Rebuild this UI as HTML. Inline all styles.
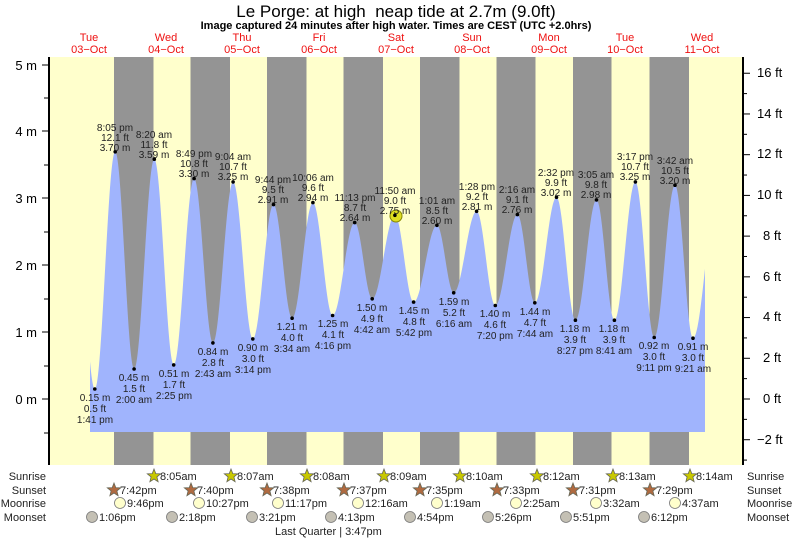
<!DOCTYPE html>
<html><head><meta charset="utf-8"><style>
body{margin:0;background:#fff}
svg{display:block;font-family:"Liberation Sans",sans-serif}
</style></head><body>
<svg id="s" width="793" height="539" viewBox="0 0 793 539">
<rect x="49" y="57" width="694" height="408" fill="#ffffcc"/>
<g fill="#949494">
<rect x="114" y="57" width="39.5" height="408"/>
<rect x="190.5" y="57" width="39.5" height="408"/>
<rect x="267" y="57" width="39.5" height="408"/>
<rect x="343.5" y="57" width="39.5" height="408"/>
<rect x="420" y="57" width="39.5" height="408"/>
<rect x="496.5" y="57" width="39" height="408"/>
<rect x="573" y="57" width="38.5" height="408"/>
<rect x="649.5" y="57" width="39.5" height="408"/>
</g>
<path id="tide" fill="#a0b4fd" d=""/>
<line x1="49" y1="57" x2="49" y2="465" stroke="#000" stroke-width="2"/>
<line x1="743" y1="57" x2="743" y2="465" stroke="#000" stroke-width="2"/>
<g stroke="#000" stroke-width="1">
<line x1="42" y1="65" x2="49" y2="65"/><line x1="44" y1="98" x2="49" y2="98"/>
<line x1="42" y1="131" x2="49" y2="131"/><line x1="44" y1="165" x2="49" y2="165"/>
<line x1="42" y1="198" x2="49" y2="198"/><line x1="44" y1="232" x2="49" y2="232"/>
<line x1="42" y1="265" x2="49" y2="265"/><line x1="44" y1="299" x2="49" y2="299"/>
<line x1="42" y1="332" x2="49" y2="332"/><line x1="44" y1="366" x2="49" y2="366"/>
<line x1="42" y1="399" x2="49" y2="399"/><line x1="44" y1="433" x2="49" y2="433"/>
</g>
<g stroke="#000" stroke-width="1" id="rt"></g>
<g font-size="13" fill="#000" text-anchor="end">
<text x="37" y="70">5 m</text><text x="37" y="136">4 m</text><text x="37" y="203">3 m</text>
<text x="37" y="270">2 m</text><text x="37" y="337">1 m</text><text x="37" y="404">0 m</text>
</g>
<g font-size="13" fill="#000">
<text x="757" y="77">16 ft</text><text x="757" y="118">14 ft</text><text x="757" y="158">12 ft</text>
<text x="757" y="199">10 ft</text><text x="763" y="240">8 ft</text><text x="763" y="281">6 ft</text>
<text x="763" y="321">4 ft</text><text x="763" y="362">2 ft</text><text x="763" y="403">0 ft</text>
<text x="757" y="444">−2 ft</text>
</g>
<text x="396" y="17" font-size="17" text-anchor="middle">Le Porge: at high &#160;neap tide at 2.7m (9.0ft)</text>
<text x="396" y="29" font-size="11" font-weight="bold" text-anchor="middle">Image captured 24 minutes after high water. Times are CEST (UTC +2.0hrs)</text>
<g font-size="11" fill="#ee1111" text-anchor="middle">
<text x="89" y="41">Tue</text><text x="89" y="53">03−Oct</text>
<text x="166" y="41">Wed</text><text x="166" y="53">04−Oct</text>
<text x="242" y="41">Thu</text><text x="242" y="53">05−Oct</text>
<text x="319" y="41">Fri</text><text x="319" y="53">06−Oct</text>
<text x="396" y="41">Sat</text><text x="396" y="53">07−Oct</text>
<text x="472" y="41">Sun</text><text x="472" y="53">08−Oct</text>
<text x="549" y="41">Mon</text><text x="549" y="53">09−Oct</text>
<text x="625" y="41">Tue</text><text x="625" y="53">10−Oct</text>
<text x="702" y="41">Wed</text><text x="702" y="53">11−Oct</text>
</g>
<circle cx="396" cy="216" r="6" fill="#dddd22" stroke="#888800"/>
<g fill="#000" id="dots"></g>
<g font-size="10" fill="#222" text-anchor="middle">
<text x="115" y="131">8:05 pm</text><text x="115" y="141">12.1 ft</text><text x="115" y="151">3.70 m</text>
<text x="154" y="138">8:20 am</text><text x="154" y="148">11.8 ft</text><text x="154" y="158">3.59 m</text>
<text x="194" y="157">8:49 pm</text><text x="194" y="167">10.8 ft</text><text x="194" y="177">3.30 m</text>
<text x="233" y="160">9:04 am</text><text x="233" y="170">10.7 ft</text><text x="233" y="180">3.25 m</text>
<text x="273" y="183">9:44 pm</text><text x="273" y="193">9.5 ft</text><text x="273" y="203">2.91 m</text>
<text x="313" y="181">10:06 am</text><text x="313" y="191">9.6 ft</text><text x="313" y="201">2.94 m</text>
<text x="355" y="201">11:13 pm</text><text x="355" y="211">8.7 ft</text><text x="355" y="221">2.64 m</text>
<text x="395" y="194">11:50 am</text><text x="395" y="204">9.0 ft</text><text x="395" y="214">2.75 m</text>
<text x="437" y="204">1:01 am</text><text x="437" y="214">8.5 ft</text><text x="437" y="224">2.60 m</text>
<text x="477" y="190">1:28 pm</text><text x="477" y="200">9.2 ft</text><text x="477" y="210">2.81 m</text>
<text x="517" y="193">2:16 am</text><text x="517" y="203">9.1 ft</text><text x="517" y="213">2.76 m</text>
<text x="556" y="176">2:32 pm</text><text x="556" y="186">9.9 ft</text><text x="556" y="196">3.02 m</text>
<text x="596" y="178">3:05 am</text><text x="596" y="188">9.8 ft</text><text x="596" y="198">2.98 m</text>
<text x="635" y="160">3:17 pm</text><text x="635" y="170">10.7 ft</text><text x="635" y="180">3.25 m</text>
<text x="675" y="164">3:42 am</text><text x="675" y="174">10.5 ft</text><text x="675" y="184">3.20 m</text>
<text x="95" y="401">0.15 m</text><text x="95" y="412">0.5 ft</text><text x="95" y="423">1:41 pm</text>
<text x="134" y="381">0.45 m</text><text x="134" y="392">1.5 ft</text><text x="134" y="403">2:00 am</text>
<text x="174" y="377">0.51 m</text><text x="174" y="388">1.7 ft</text><text x="174" y="399">2:25 pm</text>
<text x="213" y="355">0.84 m</text><text x="213" y="366">2.8 ft</text><text x="213" y="377">2:43 am</text>
<text x="253" y="351">0.90 m</text><text x="253" y="362">3.0 ft</text><text x="253" y="373">3:14 pm</text>
<text x="292" y="330">1.21 m</text><text x="292" y="341">4.0 ft</text><text x="292" y="352">3:34 am</text>
<text x="333" y="327">1.25 m</text><text x="333" y="338">4.1 ft</text><text x="333" y="349">4:16 pm</text>
<text x="372" y="311">1.50 m</text><text x="372" y="322">4.9 ft</text><text x="372" y="333">4:42 am</text>
<text x="414" y="314">1.45 m</text><text x="414" y="325">4.8 ft</text><text x="414" y="336">5:42 pm</text>
<text x="454" y="305">1.59 m</text><text x="454" y="316">5.2 ft</text><text x="454" y="327">6:16 am</text>
<text x="495" y="317">1.40 m</text><text x="495" y="328">4.6 ft</text><text x="495" y="339">7:20 pm</text>
<text x="535" y="315">1.44 m</text><text x="535" y="326">4.7 ft</text><text x="535" y="337">7:44 am</text>
<text x="575" y="332">1.18 m</text><text x="575" y="343">3.9 ft</text><text x="575" y="354">8:27 pm</text>
<text x="614" y="332">1.18 m</text><text x="614" y="343">3.9 ft</text><text x="614" y="354">8:41 am</text>
<text x="654" y="349">0.92 m</text><text x="654" y="360">3.0 ft</text><text x="654" y="371">9:11 pm</text>
<text x="693" y="350">0.91 m</text><text x="693" y="361">3.0 ft</text><text x="693" y="372">9:21 am</text>
</g>
<g font-size="11" fill="#222">
<text x="46" y="480" text-anchor="end">Sunrise</text><text x="46" y="494" text-anchor="end">Sunset</text>
<text x="46" y="507" text-anchor="end">Moonrise</text><text x="46" y="521" text-anchor="end">Moonset</text>
<text x="747" y="480">Sunrise</text><text x="747" y="494">Sunset</text>
<text x="747" y="507">Moonrise</text><text x="747" y="521">Moonset</text>
<text x="275" y="535">Last Quarter | 3:47pm</text>
</g>
<g id="ev" font-size="11" fill="#222">
<text x="160" y="480">8:05am</text><text x="237" y="480">8:07am</text><text x="313" y="480">8:08am</text><text x="390" y="480">8:09am</text>
<text x="466" y="480">8:10am</text><text x="543" y="480">8:12am</text><text x="619" y="480">8:13am</text><text x="696" y="480">8:14am</text>
<text x="120" y="494">7:42pm</text><text x="197" y="494">7:40pm</text><text x="273" y="494">7:38pm</text><text x="350" y="494">7:37pm</text>
<text x="426" y="494">7:35pm</text><text x="503" y="494">7:33pm</text><text x="579" y="494">7:31pm</text><text x="656" y="494">7:29pm</text>
<text x="127" y="507">9:46pm</text><text x="206" y="507">10:27pm</text><text x="285" y="507">11:17pm</text><text x="365" y="507">12:16am</text>
<text x="444" y="507">1:19am</text><text x="523" y="507">2:25am</text><text x="603" y="507">3:32am</text><text x="682" y="507">4:37am</text>
<text x="99" y="521">1:06pm</text><text x="179" y="521">2:18pm</text><text x="259" y="521">3:21pm</text><text x="338" y="521">4:13pm</text>
<text x="417" y="521">4:54pm</text><text x="495" y="521">5:26pm</text><text x="573" y="521">5:51pm</text><text x="651" y="521">6:12pm</text>
</g>
<g id="icons"></g>
</svg>
<script>
var T=[[94.8,389.0],[115.2,151.8],[134.1,369.0],[154.3,159.2],[173.7,364.9],[194.1,178.6],[212.9,342.9],[233.1,181.9],[252.8,338.9],[273.5,204.6],[292.1,318.2],[312.9,202.6],[332.6,315.5],[354.7,222.6],[372.2,298.8],[394.9,215.3],[413.6,302.1],[436.9,225.3],[453.7,292.8],[476.6,211.3],[495.3,305.5],[517.4,214.6],[534.8,302.8],[556.5,197.3],[575.4,320.2],[596.5,199.9],[614.4,320.2],[635.4,181.9],[654.2,337.5],[675.0,185.2],[693.0,338.2]];
var P=[[74,170]].concat(T).concat([[718,190]]);
function y(x){for(var i=0;i<P.length-1;i++){if(x>=P[i][0]&&x<=P[i+1][0]){var t=(x-P[i][0])/(P[i+1][0]-P[i][0]);return P[i][1]+(P[i+1][1]-P[i][1])*(1-Math.cos(Math.PI*t))/2;}}return 300;}
var d="M90,432";for(var x=90;x<=705;x+=0.5){d+=" L"+x+","+y(x).toFixed(1);}d+=" L705,432 Z";
document.getElementById('tide').setAttribute('d',d);
var ns="http://www.w3.org/2000/svg";
var dots=document.getElementById('dots');
T.forEach(function(p){var c=document.createElementNS(ns,'circle');c.setAttribute('cx',p[0]);c.setAttribute('cy',p[1]);c.setAttribute('r',1.8);dots.appendChild(c);});
var rt=document.getElementById('rt');
for(var f=-3;f<=16;f++){var yy=399-20.36*f;var l=document.createElementNS(ns,'line');l.setAttribute('x1',743);l.setAttribute('x2',f%2==0?750:747);l.setAttribute('y1',yy);l.setAttribute('y2',yy);rt.appendChild(l);}
var ic=document.getElementById('icons');
function star(cx,cy,fill){var s="";for(var k=0;k<10;k++){var r=k%2?3:7,a=-Math.PI/2+k*Math.PI/5;s+=(cx+r*Math.cos(a)).toFixed(1)+","+(cy+r*Math.sin(a)).toFixed(1)+" ";}var p=document.createElementNS(ns,'polygon');p.setAttribute('points',s);p.setAttribute('fill',fill);p.setAttribute('stroke','#665');p.setAttribute('stroke-width','0.8');ic.appendChild(p);}
function circ(cx,cy,fill){var c=document.createElementNS(ns,'circle');c.setAttribute('cx',cx);c.setAttribute('cy',cy);c.setAttribute('r',5.5);c.setAttribute('fill',fill);c.setAttribute('stroke','#777');c.setAttribute('stroke-width','0.8');ic.appendChild(c);}
var ev=document.getElementById('ev').children;
for(var i=0;i<ev.length;i++){var t=ev[i],x=+t.getAttribute('x'),yy=+t.getAttribute('y');
 if(i<8)star(x-6,yy-4,'#c8c800');else if(i<16)star(x-6,yy-4,'#b06a40');else if(i<24)circ(x-7,yy-4,'#ffffcc');else circ(x-7,yy-4,'#c4c0b4');}
</script>
</body></html>
